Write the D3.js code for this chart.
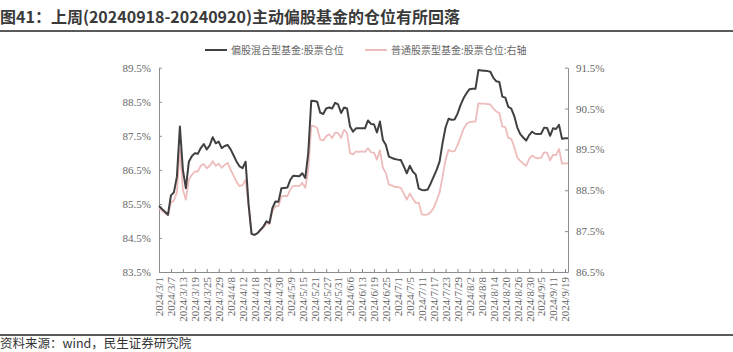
<!DOCTYPE html>
<html>
<head>
<meta charset="utf-8">
<script src="https://cdn.jsdelivr.net/npm/d3@7"></script>
<style>
  body { margin: 0; background: #fff; }
  svg { display: block; }
</style>
</head>
<body>
<script>
// Chart size
const width = 733, height = 352;
const margin = {top: 67.7, right: 165, bottom: 80, left: 159};

// Trading days shown on the x axis
const dates = [
  "2024/3/1","2024/3/4","2024/3/5","2024/3/6","2024/3/7","2024/3/8","2024/3/11","2024/3/12","2024/3/13","2024/3/14",
  "2024/3/15","2024/3/18","2024/3/19","2024/3/20","2024/3/21","2024/3/22","2024/3/25","2024/3/26","2024/3/27","2024/3/28",
  "2024/3/29","2024/4/1","2024/4/2","2024/4/3","2024/4/8","2024/4/9","2024/4/10","2024/4/11","2024/4/12","2024/4/15",
  "2024/4/16","2024/4/17","2024/4/18","2024/4/19","2024/4/22","2024/4/23","2024/4/24","2024/4/25","2024/4/26","2024/4/29",
  "2024/4/30","2024/5/6","2024/5/7","2024/5/8","2024/5/9","2024/5/10","2024/5/13","2024/5/14","2024/5/15","2024/5/16",
  "2024/5/17","2024/5/20","2024/5/21","2024/5/22","2024/5/23","2024/5/24","2024/5/27","2024/5/28","2024/5/29","2024/5/30",
  "2024/5/31","2024/6/3","2024/6/4","2024/6/5","2024/6/6","2024/6/7","2024/6/11","2024/6/12","2024/6/13","2024/6/14",
  "2024/6/17","2024/6/18","2024/6/19","2024/6/20","2024/6/21","2024/6/24","2024/6/25","2024/6/26","2024/6/27","2024/6/28",
  "2024/7/1","2024/7/2","2024/7/3","2024/7/4","2024/7/5","2024/7/8","2024/7/9","2024/7/10","2024/7/11","2024/7/12",
  "2024/7/15","2024/7/16","2024/7/17","2024/7/18","2024/7/19","2024/7/22","2024/7/23","2024/7/24","2024/7/25","2024/7/26",
  "2024/7/29","2024/7/30","2024/7/31","2024/8/1","2024/8/2","2024/8/5","2024/8/6","2024/8/7","2024/8/8","2024/8/9",
  "2024/8/12","2024/8/13","2024/8/14","2024/8/15","2024/8/16","2024/8/19","2024/8/20","2024/8/21","2024/8/22","2024/8/23",
  "2024/8/26","2024/8/27","2024/8/28","2024/8/29","2024/8/30","2024/9/2","2024/9/3","2024/9/4","2024/9/5","2024/9/6",
  "2024/9/9","2024/9/10","2024/9/11","2024/9/12","2024/9/13","2024/9/18","2024/9/19","2024/9/20"
];

// Labels printed under the x axis
const tickLabels = [
  "2024/3/1","2024/3/7","2024/3/13","2024/3/19","2024/3/25","2024/3/29","2024/4/8","2024/4/12","2024/4/18",
  "2024/4/24","2024/4/30","2024/5/9","2024/5/15","2024/5/21","2024/5/27","2024/5/31","2024/6/6","2024/6/13",
  "2024/6/19","2024/6/25","2024/7/1","2024/7/5","2024/7/11","2024/7/17","2024/7/23","2024/7/29","2024/8/2",
  "2024/8/8","2024/8/14","2024/8/20","2024/8/26","2024/8/30","2024/9/5","2024/9/11","2024/9/19"
];

// 偏股混合型基金:股票仓位 (left axis, %)
const hybridFund = [
  85.44,85.35,85.27,85.18,85.75,85.84,86.3,87.77,86.5,85.96,
  86.74,86.9,86.99,86.97,87.14,87.26,87.1,87.22,87.46,87.28,
  87.33,87.14,87.2,87.23,87.1,86.92,86.74,86.6,86.55,86.74,
  85.5,84.62,84.59,84.64,84.74,84.84,84.99,84.94,85.38,85.57,
  85.56,85.96,85.97,85.98,86.21,86.33,86.32,86.31,86.4,86.26,
  87.0,88.53,88.52,88.5,88.18,88.14,88.3,88.33,88.3,88.47,
  88.42,88.17,88.33,88.3,87.77,87.62,87.72,87.72,87.72,87.72,
  87.95,87.85,87.84,87.6,87.92,87.38,87.23,86.89,86.85,86.82,
  86.8,86.79,86.6,86.4,86.62,86.45,86.36,85.95,85.91,85.9,
  85.92,86.1,86.3,86.5,86.75,87.3,87.75,88.0,87.97,87.98,
  88.15,88.4,88.6,88.75,88.87,88.88,88.88,89.43,89.42,89.41,
  89.4,89.38,89.2,89.1,89.08,88.65,88.62,88.35,88.3,88.08,
  87.75,87.55,87.45,87.36,87.52,87.62,87.56,87.55,87.56,87.74,
  87.73,87.5,87.72,87.7,87.82,87.41,87.43,87.43
];

// 普通股票型基金:股票仓位 (right axis, %)
const stockFund = [
  88.07,88.0,87.94,87.88,88.2,88.25,88.45,89.5,88.52,88.27,
  88.76,88.88,88.96,88.96,89.1,89.14,89.04,89.1,89.21,89.1,
  89.15,89.05,89.12,89.17,89.0,88.86,88.7,88.6,88.63,88.76,
  88.1,87.42,87.41,87.45,87.52,87.58,87.69,87.67,87.99,88.11,
  88.11,88.35,88.36,88.36,88.52,88.61,88.61,88.6,88.68,88.56,
  89.0,90.08,90.07,90.02,89.74,89.72,89.82,89.87,89.78,89.91,
  89.9,89.78,89.98,89.9,89.41,89.38,89.45,89.44,89.45,89.44,
  89.53,89.43,89.42,89.25,89.48,89.05,88.92,88.64,88.62,88.58,
  88.58,88.56,88.42,88.27,88.42,88.3,88.19,88.2,87.91,87.9,
  87.91,87.96,88.07,88.25,88.45,88.84,89.25,89.49,89.45,89.46,
  89.6,89.8,90.0,90.12,90.17,90.18,90.18,90.63,90.62,90.62,
  90.61,90.6,90.5,90.43,90.39,90.06,90.05,89.78,89.76,89.56,
  89.3,89.22,89.15,89.1,89.27,89.35,89.3,89.28,89.3,89.43,
  89.42,89.23,89.37,89.36,89.51,89.15,89.16,89.16
];

const leftTicks = [83.5, 84.5, 85.5, 86.5, 87.5, 88.5, 89.5];
const rightTicks = [86.5, 87.5, 88.5, 89.5, 90.5, 91.5];

const titleText = "图41：上周(20240918-20240920)主动偏股基金的仓位有所回落";
const sourceText = "资料来源：wind，民生证券研究院";
const legendNames = ["偏股混合型基金:股票仓位", "普通股票型基金:股票仓位:右轴"];
const colors = ["#404040", "#efbcbc"];

const svg = d3.select("body")
      .append("svg")
      .attr("width", width)
      .attr("height", height);

// Title and its rule
svg.append("text")
    .attr("x", 0)
    .attr("y", 23)
    .style("font-family", "'Noto Sans CJK SC', 'Noto Sans', sans-serif")
    .style("font-size", "16px")
    .style("font-weight", "bold")
    .style("fill", "#3a3a3a")
    .text(titleText);

svg.append("line")
    .attr("x1", 0).attr("x2", width)
    .attr("y1", 31).attr("y2", 31)
    .style("stroke", "#5a5a5a")
    .style("stroke-width", 2);

// Scales
const x = d3.scalePoint()
      .domain(dates)
      .range([margin.left, width - margin.right]);

const yLeft = d3.scaleLinear()
      .domain([83.5, 89.5])
      .range([height - margin.bottom, margin.top]);

const yRight = d3.scaleLinear()
      .domain([86.5, 91.5])
      .range([height - margin.bottom, margin.top]);

const fmt = d => d.toFixed(1) + "%";
const axisFont = "'Liberation Serif', 'Times New Roman', serif";

// Axes
const gLeft = svg.append("g")
      .attr("transform", `translate(${margin.left},0)`)
      .call(d3.axisLeft(yLeft).tickValues(leftTicks).tickFormat(fmt).tickSize(-3).tickSizeOuter(0).tickPadding(8));

const gRight = svg.append("g")
      .attr("transform", `translate(${width - margin.right},0)`)
      .call(d3.axisRight(yRight).tickValues(rightTicks).tickFormat(fmt).tickSize(-3).tickSizeOuter(0).tickPadding(8));

const gBottom = svg.append("g")
      .attr("transform", `translate(0,${height - margin.bottom})`)
      .call(d3.axisBottom(x).tickValues(tickLabels).tickSize(-3).tickSizeOuter(0));

gBottom.selectAll("text")
    .attr("transform", "rotate(-90)")
    .attr("text-anchor", "end")
    .attr("x", -5)
    .attr("y", 0)
    .attr("dy", "0.35em");

[gLeft, gRight, gBottom].forEach(g => {
    g.selectAll(".domain, line").style("stroke", "#8c8c8c");
    g.selectAll("text")
        .style("font-family", axisFont)
        .style("font-size", "11px")
        .style("fill", "#666");
});

// Lines
const lineLeft = d3.line()
      .x((d, i) => x(dates[i]))
      .y(d => yLeft(d));

const lineRight = d3.line()
      .x((d, i) => x(dates[i]))
      .y(d => yRight(d));

svg.append("path")
    .datum(stockFund)
    .attr("d", lineRight)
    .style("fill", "none")
    .style("stroke", colors[1])
    .style("stroke-width", 1.8)
    .style("stroke-linejoin", "round");

svg.append("path")
    .datum(hybridFund)
    .attr("d", lineLeft)
    .style("fill", "none")
    .style("stroke", colors[0])
    .style("stroke-width", 2)
    .style("stroke-linejoin", "round");

// Legend
const legend = svg.append("g").attr("class", "legend");
const legendX = [205, 365];
legendNames.forEach((name, i) => {
    legend.append("line")
        .attr("x1", legendX[i]).attr("x2", legendX[i] + 22)
        .attr("y1", 50).attr("y2", 50)
        .style("stroke", colors[i])
        .style("stroke-width", 2);
    legend.append("text")
        .attr("x", legendX[i] + 26)
        .attr("y", 50)
        .attr("dy", "0.35em")
        .style("font-family", "'Noto Sans CJK SC', sans-serif")
        .style("font-size", "10px")
        .style("fill", "#666")
        .text(name);
});

// Bottom rule and source
svg.append("line")
    .attr("x1", 0).attr("x2", width)
    .attr("y1", 335).attr("y2", 335)
    .style("stroke", "#5a5a5a")
    .style("stroke-width", 2);

svg.append("text")
    .attr("x", 0)
    .attr("y", 348)
    .style("font-family", "'Noto Sans CJK SC', sans-serif")
    .style("font-size", "12.5px")
    .style("fill", "#333")
    .text(sourceText);
</script>
</body>
</html>
